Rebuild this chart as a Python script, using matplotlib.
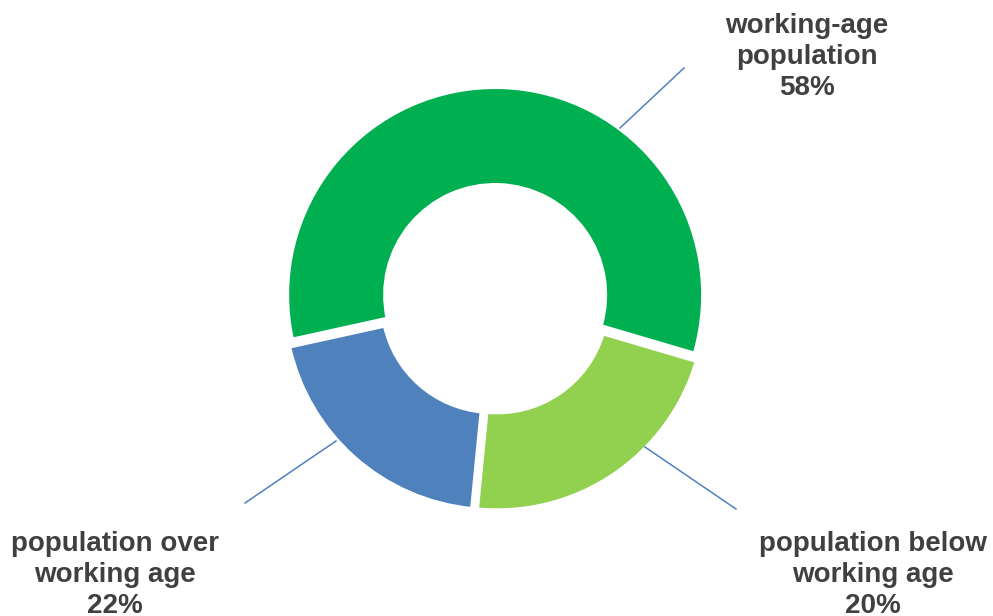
import matplotlib.pyplot as plt

# data (clockwise from the blue / dark green boundary)
groups = ["working-age\npopulation", "population below\nworking age", "population over\nworking age"]
shares = [58, 22, 20]
share_labels = ["58%", "20%", "22%"]
colors = ["#00B050", "#92D050", "#4F81BD"]

W, H = 993, 616
fig = plt.figure(figsize=(W / 100, H / 100), dpi=100)
ax = fig.add_axes([0, 0, 1, 1])

R, r_in = 208, 110
cx, cy = 495, H - 299
# explode is in data units here (pixels); white edges widen the gaps
ax.pie(shares, colors=colors, startangle=192.4, counterclock=False,
       radius=R, center=(cx, cy), explode=[4] * 3,
       wedgeprops=dict(width=R - r_in, linewidth=2.9, edgecolor="white"))

# label positions and leader lines, in pixel space (y measured from top)
text_pos = [(807, 57), (873, 575), (115, 575)]
leaders = [((620, 128), (684, 68)), ((645, 447), (736, 509)), ((336, 441), (245, 503))]

for name, lab, (tx, ty), (p0, p1) in zip(groups, share_labels, text_pos, leaders):
    ax.plot([p0[0], p1[0]], [H - p0[1], H - p1[1]], color="#4F81BD", lw=1.1)
    ax.text(tx, H - ty, name + "\n" + lab, ha="center", va="center",
            fontsize=20, fontweight="bold", family="Liberation Sans",
            color="#404040", linespacing=1.24)

ax.set_xlim(0, W)
ax.set_ylim(0, H)
ax.set_aspect("equal")
ax.axis("off")
fig.savefig("out.png", dpi=100, facecolor="white")
